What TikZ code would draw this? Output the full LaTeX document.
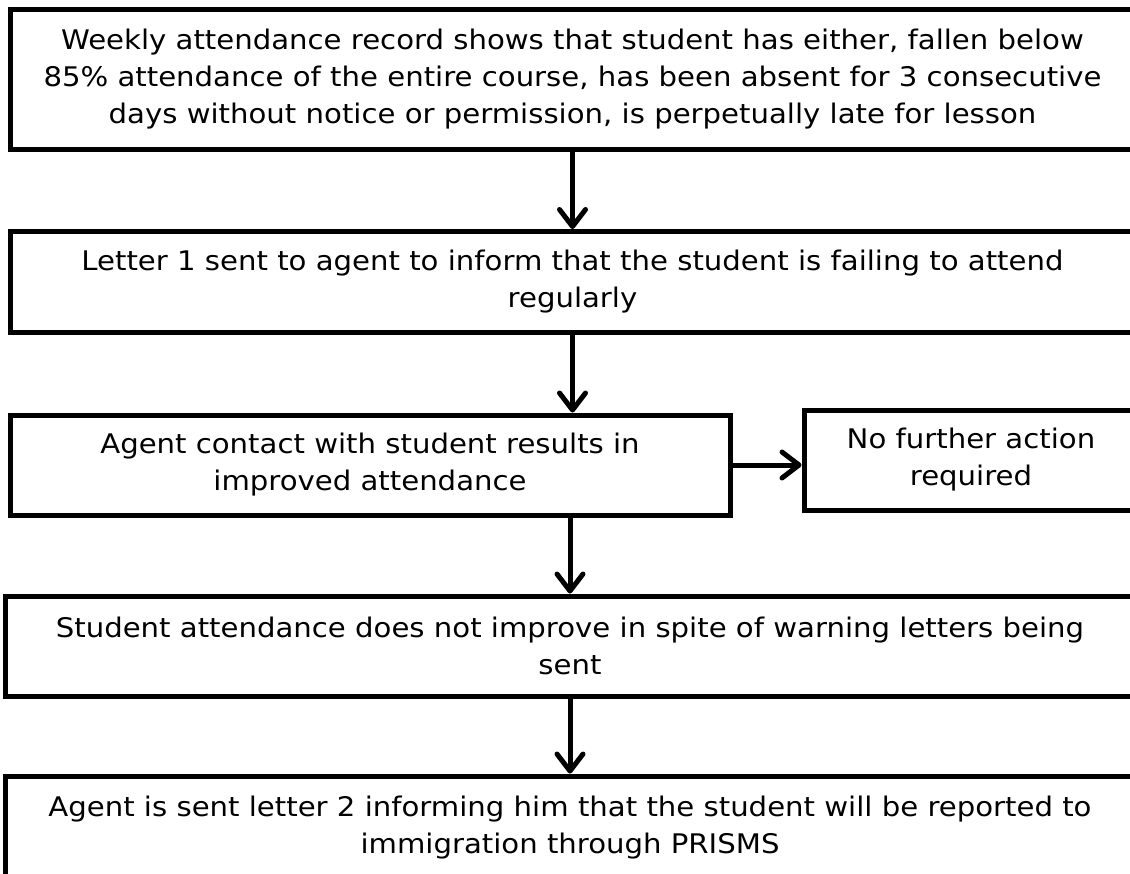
\documentclass[tikz,border=0pt]{standalone}
\usepackage{fontspec}
\setmainfont[FakeStretch=1.08]{DejaVu Sans}
\usetikzlibrary{arrows.meta}
\tikzset{
  box/.style={draw=black, line width=5pt, rectangle, align=center, inner sep=0pt,
    font=\fontsize{27}{37}\selectfont},
  arr/.style={line width=5pt, -{Straight Barb[length=17pt,width=26pt,round]}},
}
\begin{document}
\begin{tikzpicture}[x=1pt,y=1pt]
\useasboundingbox (0,0) rectangle (1130,-873);
\clip (0,0) rectangle (1130,-873);
\fill[white] (0,0) rectangle (1130,-873);
\node[box, minimum width=1125pt, minimum height=140pt] (b1) at (572.5,-79)
  {Weekly attendance record shows that student has either, fallen below\\
   85\% attendance of the entire course, has been absent for 3 consecutive\\
   days without notice or permission, is perpetually late for lesson};
\node[box, minimum width=1125pt, minimum height=101pt] (b2) at (572.5,-282)
  {Letter 1 sent to agent to inform that the student is failing to attend\\ regularly};
\node[box, minimum width=720pt, minimum height=100pt] (b3) at (370,-465)
  {Agent contact with student results in\\ improved attendance};
\node[box, minimum width=334pt, minimum height=100pt] (b4) at (971,-460)
  {No further action\\ required};
\node[box, minimum width=1130pt, minimum height=100pt] (b5) at (570,-646)
  {Student attendance does not improve in spite of warning letters being\\ sent};
\node[box, minimum width=1130pt, minimum height=104pt] (b6) at (570,-828)
  {Agent is sent letter 2 informing him that the student will be reported to\\ immigration through PRISMS};
\draw[arr] (b1.south) -- (b2.north);
\draw[arr] (b2.south) -- (b3.north -| b2.south);
\draw[arr] (b3.east) -- (b4.west |- b3.east);
\draw[arr] (b3.south -| b5.north) -- (b5.north);
\draw[arr] (b5.south) -- (b6.north);
\end{tikzpicture}
\end{document}
